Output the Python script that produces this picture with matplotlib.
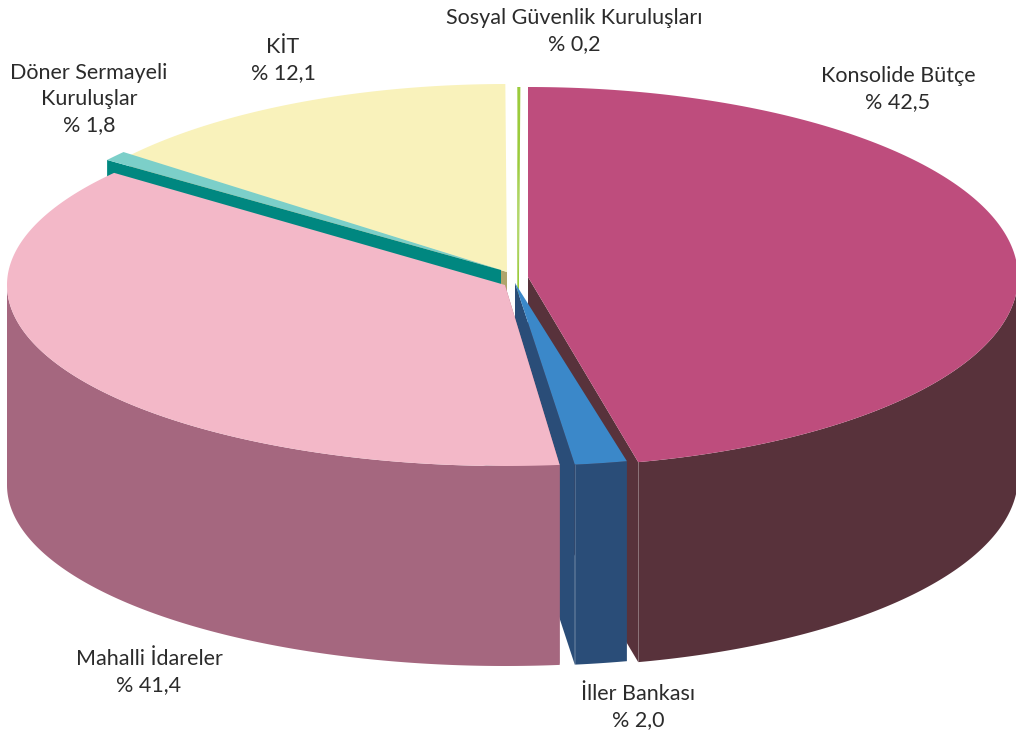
import numpy as np
import matplotlib
matplotlib.use("Agg")
import matplotlib.pyplot as plt
from matplotlib.patches import Polygon

plt.rcParams["font.family"] = ["Lato", "DejaVu Sans"]

names = ["Sosyal Güvenlik Kuruluşları", "KİT", "Döner Sermayeli\nKuruluşlar",
         "Konsolide Bütçe", "İller Bankası", "Mahalli İdareler"]
values = [0.2, 12.1, 1.8, 42.5, 2.0, 41.4]

# picture is a perspective view, so every slice has its own ellipse and angle stretch
centers = [(519, 275), (507, 272), (501, 270), (528, 277), (515, 283), (505, 285)]
radii = [(490, 188), (481, 188), (490, 185), (490, 190), (490, 183), (498, 181)]
starts = [359.8, 308.4, 306.5, 0.0, 166.8, 173.7]
stretch = [0.5, 1.18, 0.48, 1.0915, 0.86, 0.903]
depth = 200

top_colors = ["#9BCB3C", "#F9F2BB", "#7CCFC9", "#BE4D7D", "#3B88C9", "#F3B8C8"]
side_colors = ["#9BCB3C", "#AFA56B", "#008780", "#58323B", "#2A4D78", "#A5677F"]
# which cut face shows: 0 = start of the slice, 1 = end of the slice
cut_face = [0, 0, 0, 1, 1, 0]

label_pos = [(574, 31), (283, 60), (89, 99), (898, 89), (638, 707), (149, 672)]

fig = plt.figure(figsize=(10.16, 7.4), dpi=100)
ax = fig.add_axes([0, 0, 1, 1])
ax.set_xlim(0, 1016)
ax.set_ylim(740, 0)
ax.axis("off")


def arc(c, r, t0, t1):
    t = np.radians(np.linspace(t0, t1, 200))
    return np.column_stack([c[0] + r[0] * np.sin(t), c[1] - r[1] * np.cos(t)])


for i in range(len(values)):
    c = centers[i]
    r = radii[i]
    t0 = starts[i]
    t1 = t0 + values[i] * 3.6 * stretch[i]
    rim = arc(c, r, t0, t1)

    # cut face, then outer wall (front half only), then the top
    edge = rim[-1] if cut_face[i] else rim[0]
    face = [c, edge, edge + [0, depth], (c[0], c[1] + depth)]
    ax.add_patch(Polygon(face, fc=side_colors[i], ec="none"))
    a = max(t0, 90)
    b = min(t1, 270)
    if b > a:
        front = arc(c, r, a, b)
        ax.add_patch(Polygon(np.vstack([front, (front + [0, depth])[::-1]]),
                             fc=side_colors[i], ec="none"))
    ax.add_patch(Polygon(np.vstack([[c], rim]), fc=top_colors[i], ec="none"))
    if cut_face[i]:
        ax.plot([edge[0], edge[0]], [edge[1], edge[1] + depth], color="#ffffff", lw=0.6, alpha=0.2)

for i in range(len(values)):
    txt = names[i] + "\n% " + f"{values[i]:.1f}".replace(".", ",")
    ax.text(label_pos[i][0], label_pos[i][1], txt, ha="center", va="center",
            fontsize=15.5, color="#2b2b2b", linespacing=1.4)

fig.savefig("out.png", dpi=100)
